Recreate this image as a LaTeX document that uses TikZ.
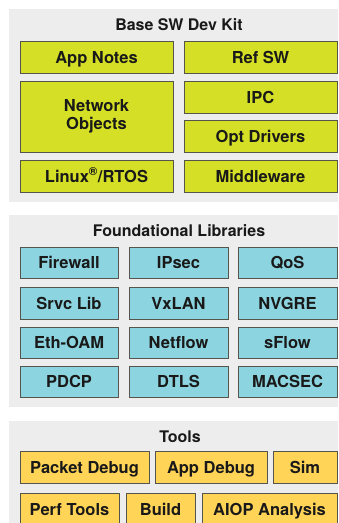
\documentclass[tikz,border=0pt]{standalone}
\usepackage{fontspec}
\setmainfont{TeX Gyre Heros}
\usetikzlibrary{positioning}

\definecolor{panelgray}{HTML}{EDEDED}
\definecolor{kitgreen}{HTML}{D4DF26}
\definecolor{libcyan}{HTML}{8CD4DF}
\definecolor{toolorange}{HTML}{FFD457}
\definecolor{edgegray}{HTML}{55554D}

\tikzset{
  panel/.style={fill=panelgray},
  paneltitle/.style={font=\fontsize{16}{18}\selectfont\bfseries, text=black!90},
  blk/.style={draw=edgegray, line width=0.9pt, inner sep=0pt, align=center,
    text=black!90, font=\fontsize{16.5}{18}\selectfont\bfseries,
    text height=12pt, text depth=0pt},
  wh/.style 2 args={minimum width=#1pt, minimum height=#2pt},
  kit/.style={blk, fill=kitgreen},
  lib/.style={blk, fill=libcyan},
  tool/.style={blk, fill=toolorange}
}

\begin{document}
\begin{tikzpicture}[x=1pt, y=-1pt]
	\useasboundingbox (0,0) rectangle (338,523);
	% panels
	\fill[panel] (9,9) rectangle (338,202);
	\fill[panel] (9,215) rectangle (338,407);
	\fill[panel] (9,421) rectangle (338,523);

	% Base SW Dev Kit
	\node[paneltitle] (kittitle) at (179,25) {Base SW Dev Kit};
	\node[kit, wh={153}{32}] (appnotes) at (96.5,57) {App Notes};
	\node[kit, wh={153}{32}] (refsw) at (260.5,57) {Ref SW};
	\node[kit, wh={153}{71}, text height=30pt, text depth=4pt] (netobj) at (96.5,116.5) {Network\\Objects};
	\node[kit, wh={153}{32}] (ipc) at (260.5,97) {IPC};
	\node[kit, wh={153}{32}] (optdrv) at (260.5,136) {Opt Drivers};
	\node[kit, wh={153}{32}] (linux) at (96.5,176) {Linux\textsuperscript{\textregistered}/RTOS};
	\node[kit, wh={153}{32}] (midware) at (260.5,176) {Middleware};

	% Foundational Libraries
	\node[paneltitle] (libtitle) at (179,231) {Foundational Libraries};
	\node[lib, wh={98}{31}] (firewall) at (69,262.5) {Firewall};
	\node[lib, wh={99}{31}] (ipsec) at (178.5,262.5) {IPsec};
	\node[lib, wh={99}{31}] (qos) at (287.5,262.5) {QoS};
	\node[lib, wh={98}{32}] (srvclib) at (69,303) {Srvc Lib};
	\node[lib, wh={99}{32}] (vxlan) at (178.5,303) {VxLAN};
	\node[lib, wh={99}{32}] (nvgre) at (287.5,303) {NVGRE};
	\node[lib, wh={98}{31}] (ethoam) at (69,342.5) {Eth-OAM};
	\node[lib, wh={99}{31}] (netflow) at (178.5,342.5) {Netflow};
	\node[lib, wh={99}{31}] (sflow) at (287.5,342.5) {sFlow};
	\node[lib, wh={98}{31}] (pdcp) at (69,381.5) {PDCP};
	\node[lib, wh={99}{31}] (dtls) at (178.5,381.5) {DTLS};
	\node[lib, wh={99}{31}] (macsec) at (287.5,381.5) {MACSEC};

	% Tools
	\node[paneltitle] (tooltitle) at (180,437) {Tools};
	\node[tool, wh={129}{32}] (pktdebug) at (84.5,467) {Packet Debug};
	\node[tool, wh={112}{32}] (appdebug) at (211,467) {App Debug};
	\node[tool, wh={64}{32}] (sim) at (305,467) {Sim};
	\node[tool, wh={99}{32}] (perftools) at (69.5,509) {Perf Tools};
	\node[tool, wh={69}{32}] (build) at (160.5,509) {Build};
	\node[tool, wh={135}{32}] (aiop) at (269.5,509) {AIOP Analysis};
\end{tikzpicture}
\end{document}
